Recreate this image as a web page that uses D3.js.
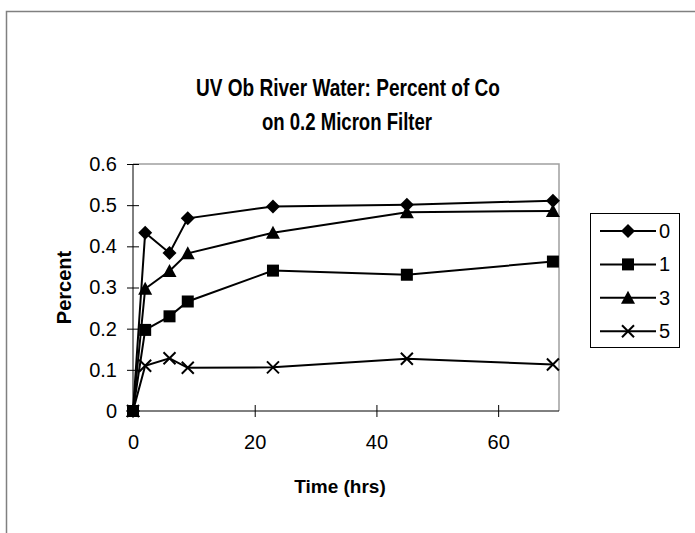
<!DOCTYPE html>
<html lang="en">
<head>
  <meta charset="UTF-8">
  <title>UV Ob River Water</title>
  <style>
    body { margin: 0; padding: 0; background: #fff; }
    svg { display: block; font-family: "Liberation Sans", Arial, sans-serif; }
    .line { fill: none; stroke: #000; stroke-width: 2px; }
    .axis path, .axis line { stroke: #000; stroke-width: 1px; }
    .axis text { font-size: 20px; fill: #000; font-family: "Liberation Sans", Arial, sans-serif; }
  </style>
</head>
<body>
  <div id="chart"></div>
  <script src="https://d3js.org/d3.v7.min.js"></script>
  <script>
    // sampling times (hrs)
    var times = [0, 2, 6, 9, 23, 45, 69];
    // series names and values
    var seriesNames = ["0", "1", "3", "5"];
    var s0 = [0, 0.433, 0.384, 0.468, 0.497, 0.501, 0.511];
    var s1 = [0, 0.197, 0.230, 0.266, 0.341, 0.331, 0.363];
    var s3 = [0, 0.297, 0.340, 0.383, 0.433, 0.483, 0.486];
    var s5 = [0, 0.110, 0.128, 0.105, 0.106, 0.127, 0.113];
    var xTicks = [0, 20, 40, 60];
    var yTicks = [0, 0.1, 0.2, 0.3, 0.4, 0.5, 0.6];

    var allSeries = [s0, s1, s3, s5];
    var shapes = ["diamond", "square", "triangle", "cross"];

    var width = 695, height = 533;
    var margin = { top: 164, right: 136, bottom: 122, left: 133 };

    var svg = d3.select("#chart").append("svg")
      .attr("width", width)
      .attr("height", height);

    // outer chart frame (cut off right and bottom)
    svg.append("rect")
      .attr("x", 6.5).attr("y", 11.5)
      .attr("width", 700).attr("height", 540)
      .attr("fill", "none").attr("stroke", "#808080").attr("stroke-width", 1.5);

    var x = d3.scaleLinear().domain([0, 70]).range([margin.left, width - margin.right]);
    var y = d3.scaleLinear().domain([0, 0.6]).range([height - margin.bottom, margin.top]);

    // plot area border (gray top and right)
    svg.append("path")
      .attr("d", "M" + x(0) + "," + y(0.6) + "H" + x(70) + "V" + y(0))
      .attr("fill", "none").attr("stroke", "#a0a0a0").attr("stroke-width", 1.5);

    var xAxis = svg.append("g")
      .attr("class", "axis")
      .attr("transform", "translate(0," + y(0) + ")")
      .call(d3.axisBottom(x).tickValues(xTicks).tickSize(6).tickSizeOuter(0).tickPadding(18));
    xAxis.select(".domain").remove();
    xAxis.selectAll(".tick line").attr("y1", -6);
    xAxis.append("line").attr("x1", x(0)).attr("x2", x(70)).attr("stroke", "#000");

    var yAxis = svg.append("g")
      .attr("class", "axis")
      .attr("transform", "translate(" + x(0) + ",0)")
      .call(d3.axisLeft(y).tickValues(yTicks).tickSize(6).tickSizeOuter(0).tickPadding(10)
        .tickFormat(function(d) { return d === 0 ? "0" : d3.format(".1f")(d); }));
    yAxis.select(".domain").remove();
    yAxis.selectAll(".tick line").attr("x1", 6);
    yAxis.append("line").attr("y1", y(0)).attr("y2", y(0.6)).attr("stroke", "#000");

    // title (condensed face in the original)
    var title = svg.append("text")
      .attr("text-anchor", "middle")
      .attr("font-size", "23px").attr("font-weight", "bold");
    title.append("tspan").attr("x", 348).attr("y", 96)
      .attr("textLength", 304).attr("lengthAdjust", "spacingAndGlyphs")
      .text("UV Ob River Water: Percent of Co");
    title.append("tspan").attr("x", 347).attr("y", 130)
      .attr("textLength", 170).attr("lengthAdjust", "spacingAndGlyphs")
      .text("on 0.2 Micron Filter");

    svg.append("text")
      .attr("x", 340).attr("y", 493)
      .attr("text-anchor", "middle")
      .attr("font-size", "19px").attr("font-weight", "bold")
      .text("Time (hrs)");

    svg.append("text")
      .attr("transform", "translate(71," + (y(0.3)) + ")rotate(-90)")
      .attr("text-anchor", "middle")
      .attr("font-size", "20px").attr("font-weight", "bold")
      .text("Percent");

    function marker(g, shape) {
      if (shape === "diamond") {
        g.append("path").attr("d", "M0,-7L7,0L0,7L-7,0Z").attr("fill", "#000");
      } else if (shape === "square") {
        g.append("rect").attr("x", -6).attr("y", -6).attr("width", 12).attr("height", 12).attr("fill", "#000");
      } else if (shape === "triangle") {
        g.append("path").attr("d", "M0,-7L7,6L-7,6Z").attr("fill", "#000");
      } else {
        g.append("path").attr("d", "M-6,-6L6,6M-6,6L6,-6").attr("stroke", "#000").attr("stroke-width", 2).attr("fill", "none");
      }
    }

    var line = d3.line()
      .x(function(d, i) { return x(times[i]); })
      .y(function(d) { return y(d); });

    allSeries.forEach(function(vals, k) {
      svg.append("path").attr("class", "line").attr("d", line(vals));
    });
    allSeries.forEach(function(vals, k) {
      vals.forEach(function(v, i) {
        var g = svg.append("g").attr("transform", "translate(" + x(times[i]) + "," + y(v) + ")");
        marker(g, shapes[k]);
      });
    });

    // legend
    var legend = svg.append("g");
    legend.append("rect")
      .attr("x", 590.5).attr("y", 213.5).attr("width", 89).attr("height", 134)
      .attr("fill", "#fff").attr("stroke", "#000").attr("stroke-width", 1);
    seriesNames.forEach(function(name, k) {
      var ly = 231 + k * 33.4;
      legend.append("line").attr("x1", 600).attr("x2", 656).attr("y1", ly).attr("y2", ly)
        .attr("stroke", "#000").attr("stroke-width", 2);
      marker(legend.append("g").attr("transform", "translate(628," + ly + ")"), shapes[k]);
      legend.append("text").attr("x", 659).attr("y", ly + 7)
        .attr("font-size", "20px").text(name);
    });
  </script>
</body>
</html>
